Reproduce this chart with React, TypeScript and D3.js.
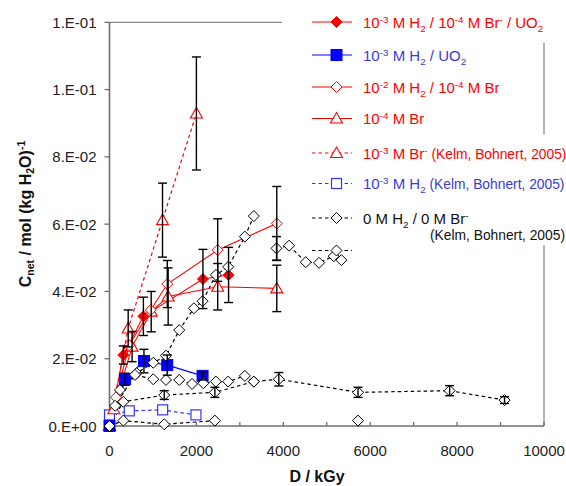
import React from "react";
import * as d3 from "d3";

// ---------- data ----------
const xTicks = [0, 2000, 4000, 6000, 8000, 10000];
const xMinorTicks = [1000, 2000, 3000, 4000, 5000, 6000, 7000, 8000, 9000, 10000];
const yTicks = [0, 0.02, 0.04, 0.06, 0.08, 0.1, 0.12];
const yTickLabels = ["0.E+00", "2.E-02", "4.E-02", "6.E-02", "8.E-02", "1.E-01", "1.E-01"];

// 10-3 M H2 / 10-4 M Br / UO2 (red filled diamond)
const s1D = [0, 318, 780, 2150, 2740];
const s1C = [0, 0.0211, 0.0326, 0.0437, 0.0449];
const s1E = [0, 0.0027, 0.0057, 0.0088, 0.0082];

// 10-3 M H2 / UO2 (blue filled square)
const s2D = [0, 356, 793, 1329, 2142];
const s2C = [0, 0.0139, 0.0193, 0.0181, 0.0149];
const s2E = [0, 0.0018, 0.0035, 0.003, 0.0012];

// 10-2 M H2 / 10-4 M Br (red open diamond)
const s3D = [0, 150, 450, 950, 1330, 2490, 3850];
const s3C = [0, 0.0085, 0.024, 0.0345, 0.0422, 0.0523, 0.0602];
const s3E = [0, 0, 0, 0, 0.007, 0.0093, 0.011];

// 10-4 M Br (red open triangle)
const s4D = [0, 100, 520, 960, 1350, 2490, 3850];
const s4C = [0, 0.005, 0.0236, 0.034, 0.0385, 0.0414, 0.0409];
const s4E = [0, 0, 0.0045, 0.006, 0.0085, 0.0069, 0.0069];

// 10-3 M Br (Kelm, Bohnert, 2005) (red dashed triangle)
const s5D = [0, 430, 1220, 2000];
const s5C = [0, 0.029, 0.0612, 0.0929];
const s5E = [0, 0.0055, 0.011, 0.0168];

// 10-3 M H2 (Kelm, Bohnert, 2005) (blue dashed open square)
const s6D = [0, 455, 1223, 1990];
const s6C = [0.0033, 0.0045, 0.0048, 0.0033];

// 0 M H2 / 0 M Br (Kelm, Bohnert, 2005) (black dashed diamonds), several runs
const k1D = [0, 240, 625, 1007, 1300, 1605, 1943, 2142, 2448, 2731, 3115, 3322];
const k1C = [0, 0.0107, 0.0157, 0.0188, 0.0209, 0.0285, 0.035, 0.0371, 0.0449, 0.0473, 0.0563, 0.0624];
const k2D = [3844, 4133, 4517, 4823, 5160, 5338];
const k2C = [0.0528, 0.0536, 0.0487, 0.0485, 0.0505, 0.0493];
const k2E = [0.0035, 0, 0, 0, 0, 0];
const k3D = [0, 130, 586, 1007, 1300, 1605, 1900, 2160, 2448, 2731, 3115, 3322];
const k3C = [0, 0.006, 0.0152, 0.0139, 0.0137, 0.0137, 0.0125, 0.0127, 0.0132, 0.0132, 0.0149, 0.0132];
const k4D = [0, 318, 1260, 2425, 3322, 3897, 5720, 7828, 9092];
const k4C = [0, 0.0072, 0.0092, 0.01, 0.0132, 0.0139, 0.01, 0.0105, 0.0077];
const k4E = [0, 0, 0.0013, 0.0015, 0, 0.002, 0.0015, 0.0015, 0.001];
const k5D = [0, 318, 1260, 2425];
const k5C = [0, 0.0016, 0.0005, 0.0016];
const k6D = [5720];
const k6C = [0.0016];

// legend
type Seg = { t: string; sup?: boolean; sub?: boolean; small?: boolean };
const legendLabels: Seg[][] = [
  [{ t: "10" }, { t: "-3", sup: true }, { t: " M H" }, { t: "2", sub: true }, { t: " / 10" }, { t: "-4", sup: true }, { t: " M Br" }, { t: "-", sup: true }, { t: " / UO" }, { t: "2", sub: true }],
  [{ t: "10" }, { t: "-3", sup: true }, { t: " M H" }, { t: "2", sub: true }, { t: " / UO" }, { t: "2", sub: true }],
  [{ t: "10" }, { t: "-2", sup: true }, { t: " M H" }, { t: "2", sub: true }, { t: " / 10" }, { t: "-4", sup: true }, { t: " M Br" }],
  [{ t: "10" }, { t: "-4", sup: true }, { t: " M Br" }],
  [{ t: "10" }, { t: "-3", sup: true }, { t: " M Br" }, { t: "-", sup: true }, { t: " (Kelm, Bohnert, 2005)", small: true }],
  [{ t: "10" }, { t: "-3", sup: true }, { t: " M H" }, { t: "2", sub: true }, { t: " (Kelm, Bohnert, 2005)", small: true }],
  [{ t: "0 M H" }, { t: "2", sub: true }, { t: " / 0 M Br" }, { t: "-", sup: true }],
  [],
];
const legendMarkers = ["fdiamond", "fsquare", "odiamond", "otriangle", "otriangle", "osquare", "odiamond", "odiamond"];
const legendColors = ["#ff0000", "#0000ff", "#ff0000", "#ff0000", "#ff0000", "#3333ff", "#000000", "#000000"];
const legendTextColors = ["#ff0000", "#3a3ad6", "#ff0000", "#ff0000", "#ff0000", "#3a3ad6", "#111111", "#111111"];
const legendDashed = [false, false, false, false, true, true, true, true];
const legendY = [22, 55, 87, 118.5, 153, 183.5, 218, 250.5];

// ---------- layout ----------
const W = 566, H = 486;
const x = d3.scaleLinear().domain([0, 10000]).range([109.5, 544]);
const y = d3.scaleLinear().domain([0, 0.12]).range([426, 22.3]);
const AXIS = "#6e6e6e";
const FONT = "Arial, 'Liberation Sans', sans-serif";

function Marker({ type, cx, cy, color }: { type: string; cx: number; cy: number; color: string }) {
  const r = 5.5;
  if (type === "fdiamond" || type === "odiamond") {
    const p = `M${cx},${cy - r}L${cx + r},${cy}L${cx},${cy + r}L${cx - r},${cy}Z`;
    return <path d={p} fill={type === "fdiamond" ? color : "#fff"} stroke={color} strokeWidth={1} />;
  }
  if (type === "fsquare") {
    const s = 11;
    return <rect x={cx - s / 2} y={cy - s / 2} width={s} height={s} fill={color} stroke={color} strokeWidth={1} />;
  }
  if (type === "osquare") {
    const s = 10;
    return <rect x={cx - s / 2} y={cy - s / 2} width={s} height={s} fill="#fff" stroke={color} strokeWidth={1.2} />;
  }
  const p = `M${cx},${cy - 6}L${cx + 6},${cy + 4.5}L${cx - 6},${cy + 4.5}Z`;
  return <path d={p} fill="#fff" stroke={color} strokeWidth={1.1} />;
}

type Series = { D: number[]; C: number[]; E?: number[]; marker: string; color: string; dashed: boolean; noLine?: boolean };

const lineGen = d3
  .line<[number, number]>()
  .x((d) => x(d[0]))
  .y((d) => y(d[1]));

function zip(D: number[], C: number[]): [number, number][] {
  return D.map((d, i) => [d, C[i]]);
}

const blackSeries: Series[] = [
  { D: k1D, C: k1C, marker: "odiamond", color: "#000", dashed: true },
  { D: k2D, C: k2C, E: k2E, marker: "odiamond", color: "#000", dashed: true },
  { D: k3D, C: k3C, marker: "odiamond", color: "#000", dashed: true },
  { D: k4D, C: k4C, E: k4E, marker: "odiamond", color: "#000", dashed: true },
  { D: k5D, C: k5C, marker: "odiamond", color: "#000", dashed: true },
  { D: k6D, C: k6C, marker: "odiamond", color: "#000", dashed: true, noLine: true },
];
const otherSeries: Series[] = [
  { D: s6D, C: s6C, marker: "osquare", color: "#3333ff", dashed: true },
  { D: s5D, C: s5C, E: s5E, marker: "otriangle", color: "#ff0000", dashed: true },
  { D: s4D, C: s4C, E: s4E, marker: "otriangle", color: "#ff0000", dashed: false },
  { D: s3D, C: s3C, E: s3E, marker: "odiamond", color: "#ff0000", dashed: false },
  { D: s1D, C: s1C, E: s1E, marker: "fdiamond", color: "#ff0000", dashed: false },
  { D: s2D, C: s2C, E: s2E, marker: "fsquare", color: "#0000ff", dashed: false },
];
const lineOrder = [...blackSeries, ...otherSeries];
const markerOrder = [...otherSeries, ...blackSeries];

function RichText({ segs, x0, y0, color, size }: { segs: Seg[]; x0: number; y0: number; color: string; size: number }) {
  const out: React.ReactNode[] = [];
  let cur = 0;
  segs.forEach((s, i) => {
    let target = 0;
    let fs = size;
    if (s.sup) { target = -5; fs = size * 0.66; }
    else if (s.sub) { target = 4; fs = size * 0.66; }
    else if (s.small) { fs = size * 0.92; }
    const dy = target - cur;
    cur = target;
    out.push(
      <tspan key={i} dy={dy} fontSize={fs}>
        {s.t}
      </tspan>
    );
  });
  return (
    <text x={x0} y={y0} fill={color} fontSize={size} fontFamily={FONT} style={{ whiteSpace: "pre" }}>
      {out}
    </text>
  );
}

export default function App() {
  return (
    <svg width={W} height={H} style={{ position: "absolute", left: 0, top: 0, background: "#fff" }} fontFamily={FONT}>
      <rect x={0} y={0} width={W} height={H} fill="#fff" />
      {/* frame pieces */}
      <line x1={x(0)} x2={282} y1={y(0.12)} y2={y(0.12)} stroke="#8a8a8a" strokeWidth={1.2} />
      <line x1={x(10000)} x2={x(10000)} y1={43} y2={134} stroke="#9a9a9a" strokeWidth={1.5} />
      <line x1={x(10000)} x2={x(10000)} y1={245} y2={y(0)} stroke="#9a9a9a" strokeWidth={1.5} />

      {/* axes */}
      <line x1={x(0)} x2={x(0)} y1={y(0.12)} y2={y(0)} stroke={AXIS} strokeWidth={1.6} />
      <line x1={x(0)} x2={x(10000)} y1={y(0)} y2={y(0)} stroke={AXIS} strokeWidth={1.6} />
      {yTicks.map((t, i) => (
        <g key={"yt" + i}>
          <line x1={x(0) - 5} x2={x(0)} y1={y(t)} y2={y(t)} stroke={AXIS} strokeWidth={1.3} />
          <text x={96.5} y={y(t) + 5.5} textAnchor="end" fontSize={15} fill="#222">
            {yTickLabels[i]}
          </text>
        </g>
      ))}
      {xMinorTicks.map((t) => (
        <line key={"xm" + t} x1={x(t)} x2={x(t)} y1={y(0)} y2={y(0) - 4} stroke={AXIS} strokeWidth={1.3} />
      ))}
      {xTicks.map((t) => (
        <text key={"xt" + t} x={x(t)} y={456} textAnchor="middle" fontSize={15} fill="#222">
          {t}
        </text>
      ))}
      <text x={317} y={482} textAnchor="middle" fontSize={16} fontWeight="bold" fill="#111">
        D / kGy
      </text>
      <text transform="translate(31,214) rotate(-90)" textAnchor="middle" fontSize={16} fontWeight="bold" fill="#111" style={{ whiteSpace: "pre" }}>
        <tspan>C</tspan>
        <tspan fontSize={10.5} dy={3}>net</tspan>
        <tspan dy={-3}> / mol (kg H</tspan>
        <tspan fontSize={10.5} dy={3}>2</tspan>
        <tspan dy={-3}>O)</tspan>
        <tspan fontSize={10.5} dy={-6}>-1</tspan>
      </text>

      {/* lines */}
      {lineOrder.map((s, i) =>
        s.noLine ? null : (
          <path
            key={"l" + i}
            d={lineGen(zip(s.D, s.C)) || ""}
            fill="none"
            stroke={s.color}
            strokeWidth={s.dashed ? 1.2 : 1.1}
            strokeDasharray={s.dashed ? "3.5,3" : undefined}
          />
        )
      )}
      {/* markers */}
      {markerOrder.map((s, i) => (
        <g key={"m" + i}>
          {s.D.map((d, j) => (
            <Marker key={j} type={s.marker} cx={x(d)} cy={y(s.C[j])} color={s.color} />
          ))}
        </g>
      ))}
      {/* error bars */}
      {lineOrder.map((s, i) =>
        s.E ? (
          <g key={"e" + i} stroke="#000" strokeWidth={1.4}>
            {s.D.map((d, j) => {
              const e = s.E![j];
              if (!e) return null;
              const cx = x(d);
              const y1 = y(s.C[j] + e);
              const y2 = y(s.C[j] - e);
              return (
                <g key={j}>
                  <line x1={cx} x2={cx} y1={y1} y2={y2} />
                  <line x1={cx - 4.5} x2={cx + 4.5} y1={y1} y2={y1} />
                  <line x1={cx - 4.5} x2={cx + 4.5} y1={y2} y2={y2} />
                </g>
              );
            })}
          </g>
        ) : null
      )}

      {/* legend */}
      {legendLabels.map((segs, i) => (
        <g key={"lg" + i}>
          <line
            x1={312}
            x2={352}
            y1={legendY[i]}
            y2={legendY[i]}
            stroke={legendColors[i]}
            strokeWidth={1.2}
            strokeDasharray={legendDashed[i] ? "3.5,3" : undefined}
          />
          <Marker type={legendMarkers[i]} cx={336.5} cy={legendY[i]} color={legendColors[i]} />
          {segs.length > 0 && <RichText segs={segs} x0={363} y0={legendY[i] + 5.5} color={legendTextColors[i]} size={15} />}
        </g>
      ))}
      <text x={565} y={240} textAnchor="end" fontSize={13.8} fill="#111">
        (Kelm, Bohnert, 2005)
      </text>
    </svg>
  );
}
